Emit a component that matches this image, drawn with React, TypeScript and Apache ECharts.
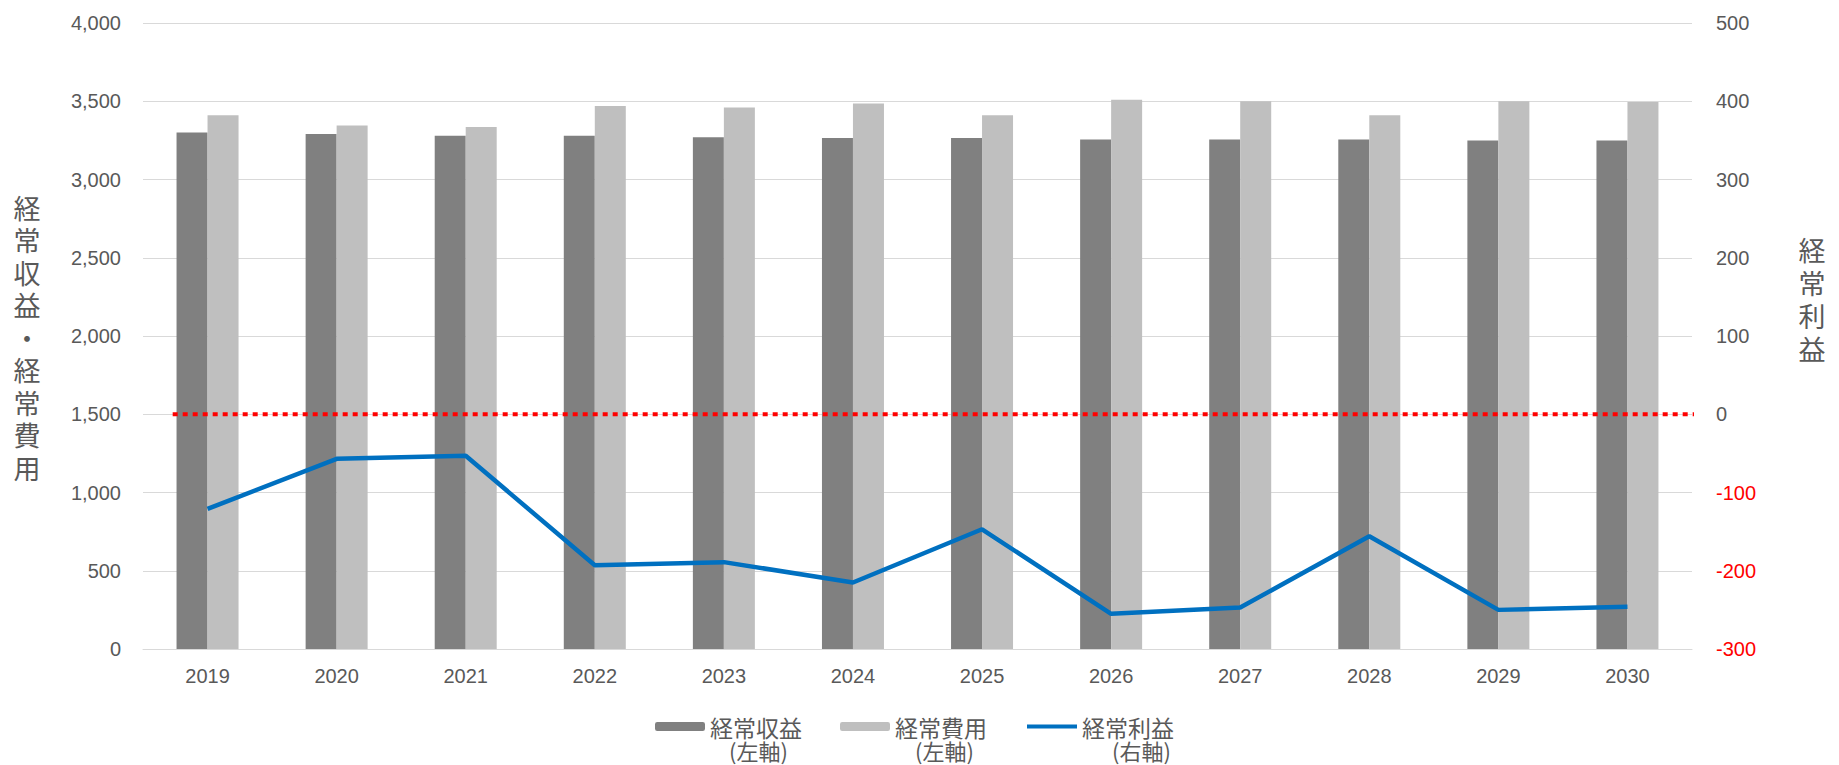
import React, { useEffect, useRef } from "react";
import * as echarts from "echarts";

const years = ["2019", "2020", "2021", "2022", "2023", "2024", "2025", "2026", "2027", "2028", "2029", "2030"];
const revenue = [3300, 3290, 3280, 3280, 3270, 3265, 3265, 3255, 3255, 3255, 3250, 3250];
const expense = [3410, 3345, 3335, 3470, 3460, 3485, 3410, 3510, 3500, 3410, 3500, 3495];
const profit = [-121, -57, -53, -193, -189, -215, -147, -255, -247, -156, -250, -246];

const seriesNames = ["経常収益", "経常費用", "経常利益"];
const legendSub = ["(左軸)", "(左軸)", "(右軸)"];
const leftAxis = { min: 0, max: 4000, interval: 500 };
const rightAxis = { min: -300, max: 500, interval: 100 };
const leftAxisName = "経常収益・経常費用";
const rightAxisName = "経常利益";
// zero-profit reference line (category-index units on a hidden axis, profit = 0)
const zeroLineX = [-0.27, 11.63];
const zeroLineY = [0, 0];

const FONT = "'Liberation Sans', Arial, 'Noto Sans CJK JP', sans-serif";
const JFONT = "'Noto Sans CJK JP', sans-serif";
const GRAY = "#595959";

export default function App() {
  const ref = useRef<HTMLDivElement>(null);
  useEffect(() => {
    if (!ref.current) return;
    const chart = echarts.init(ref.current, null, { renderer: "svg" });
    const subStyle = (pad: number) => ({
      fontSize: 22,
      color: GRAY,
      fontFamily: JFONT,
      lineHeight: 23,
      padding: [0, 0, 0, pad],
    });
    chart.setOption({
      animation: false,
      backgroundColor: "#ffffff",
      grid: { left: 143, right: 147, top: 23, bottom: 116 },
      legend: {
        data: [
          { name: seriesNames[0] },
          { name: seriesNames[1] },
          {
            name: seriesNames[2],
            itemStyle: { opacity: 0 },
            lineStyle: { width: 4, color: "#0070C0" },
          },
        ],
        top: 692,
        left: 655,
        padding: 0,
        itemWidth: 50,
        itemHeight: 9,
        itemGap: 38,
        formatter: (name: string) => {
          const i = seriesNames.indexOf(name);
          return `{e| }\n{a|${name}}\n{b${i}|${legendSub[i]}}`;
        },
        textStyle: {
          color: GRAY,
          fontFamily: JFONT,
          fontSize: 23,
          rich: {
            e: { fontSize: 23, fontFamily: JFONT, lineHeight: 23 },
            a: { fontSize: 23, color: GRAY, fontFamily: JFONT, lineHeight: 23 },
            b0: subStyle(19),
            b1: subStyle(20),
            b2: subStyle(30),
          },
        },
      },
      xAxis: [
        {
          type: "category",
          data: years,
          axisTick: { show: false },
          axisLine: { lineStyle: { color: "#D9D9D9", width: 1 } },
          axisLabel: { color: GRAY, fontSize: 20, fontFamily: FONT, margin: 17 },
        },
        {
          type: "value",
          min: -0.5,
          max: years.length - 0.5,
          show: false,
        },
      ],
      yAxis: [
        {
          type: "value",
          min: leftAxis.min,
          max: leftAxis.max,
          interval: leftAxis.interval,
          axisLine: { show: false },
          axisTick: { show: false },
          splitLine: { lineStyle: { color: "#D9D9D9", width: 1 } },
          axisLabel: {
            color: GRAY,
            fontSize: 20,
            fontFamily: FONT,
            margin: 22,
            formatter: (v: number) => v.toLocaleString("en-US"),
          },
        },
        {
          type: "value",
          min: rightAxis.min,
          max: rightAxis.max,
          interval: rightAxis.interval,
          axisLine: { show: false },
          axisTick: { show: false },
          splitLine: { show: false },
          axisLabel: {
            fontSize: 20,
            fontFamily: FONT,
            margin: 24,
            color: (v: any) => (Number(v) < 0 ? "#FF0000" : GRAY),
            formatter: (v: number) => String(v),
          },
        },
      ],
      graphic: [
        {
          type: "text",
          x: 27,
          y: 337,
          style: {
            text: leftAxisName.split("").join("\n"),
            fontSize: 27,
            lineHeight: 32.5,
            fontFamily: JFONT,
            fill: GRAY,
            align: "center",
            verticalAlign: "middle",
          },
        },
        {
          type: "text",
          x: 1812,
          y: 299,
          style: {
            text: rightAxisName.split("").join("\n"),
            fontSize: 27,
            lineHeight: 33,
            fontFamily: JFONT,
            fill: GRAY,
            align: "center",
            verticalAlign: "middle",
          },
        },
      ],
      series: [
        {
          name: seriesNames[0],
          type: "bar",
          data: revenue,
          barWidth: 31,
          barGap: "0%",
          itemStyle: { color: "#808080" },
          yAxisIndex: 0,
        },
        {
          name: seriesNames[1],
          type: "bar",
          data: expense,
          barWidth: 31,
          barGap: "0%",
          itemStyle: { color: "#BFBFBF" },
          yAxisIndex: 0,
        },
        {
          name: "zero",
          type: "line",
          xAxisIndex: 1,
          yAxisIndex: 1,
          data: zeroLineX.map((x, i) => [x, zeroLineY[i]]),
          symbol: "none",
          clip: false,
          silent: true,
          lineStyle: { color: "#FF0000", type: [5, 5], width: 4 },
          z: 4,
        },
        {
          name: seriesNames[2],
          type: "line",
          data: profit,
          yAxisIndex: 1,
          symbol: "none",
          lineStyle: { color: "#0070C0", width: 4.5 },
          itemStyle: { color: "#0070C0" },
          z: 5,
        },
      ],
    });
    return () => chart.dispose();
  }, []);
  return (
    <div
      ref={ref}
      style={{ position: "fixed", left: 0, top: 0, width: 1839, height: 765, background: "#fff" }}
    />
  );
}
